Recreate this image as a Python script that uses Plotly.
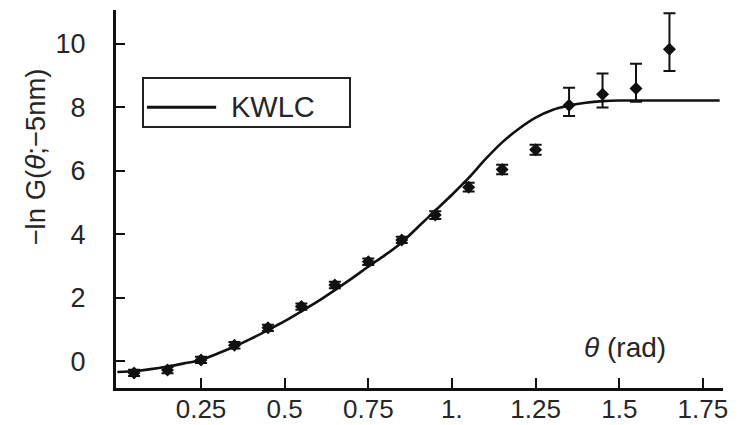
import plotly.graph_objects as go

# Measured data (theta in rad, -ln G)
theta_pts = [0.05, 0.15, 0.25, 0.35, 0.45, 0.55, 0.65, 0.75, 0.85,
             0.95, 1.05, 1.15, 1.25, 1.35, 1.45, 1.55, 1.65]
lnG_pts = [-0.36, -0.27, 0.05, 0.51, 1.06, 1.73, 2.41, 3.14, 3.83,
           4.61, 5.49, 6.05, 6.67, 8.07, 8.42, 8.60, 9.83]
err_plus = [0.1, 0.1, 0.1, 0.1, 0.1, 0.1, 0.1, 0.1, 0.1,
            0.12, 0.14, 0.15, 0.16, 0.55, 0.65, 0.78, 1.14]
err_minus = [0.1, 0.1, 0.1, 0.1, 0.1, 0.1, 0.1, 0.1, 0.1,
             0.12, 0.14, 0.15, 0.16, 0.34, 0.42, 0.42, 0.68]

# KWLC model curve
theta_fit = [0.0, 0.05, 0.10, 0.15, 0.20, 0.25, 0.30, 0.35, 0.40, 0.45,
             0.50, 0.55, 0.60, 0.65, 0.70, 0.75, 0.80, 0.85, 0.90, 0.95,
             1.00, 1.05, 1.10, 1.15, 1.20, 1.25, 1.30, 1.35, 1.40, 1.45,
             1.50, 1.60, 1.70, 1.80]
lnG_fit = [-0.33, -0.30, -0.24, -0.16, -0.06, 0.05, 0.25, 0.47, 0.72, 0.99,
           1.27, 1.58, 1.90, 2.25, 2.61, 2.99, 3.35, 3.75, 4.25, 4.75,
           5.25, 5.78, 6.37, 6.90, 7.33, 7.68, 7.92, 8.06, 8.15, 8.20,
           8.22, 8.22, 8.22, 8.22]

x_tickvals = [0.25, 0.5, 0.75, 1.0, 1.25, 1.5, 1.75]
x_ticktext = ["0.25", "0.5", "0.75", "1.", "1.25", "1.5", "1.75"]
y_tickvals = [0, 2, 4, 6, 8, 10]

TXT = "#262626"
FONT = "Liberation Sans, Arial, sans-serif"

fig = go.Figure()
fig.add_trace(go.Scatter(
    x=theta_fit, y=lnG_fit, mode="lines", name="KWLC",
    line=dict(color="#111111", width=2.6, shape="spline", smoothing=0.6),
    showlegend=False))
fig.add_trace(go.Scatter(
    x=theta_pts, y=lnG_pts, mode="markers", name="data",
    marker=dict(symbol="diamond", size=10, color="#111111"),
    error_y=dict(type="data", symmetric=False, array=err_plus,
                 arrayminus=err_minus, color="#111111", thickness=2, width=6),
    showlegend=False))

# legend box drawn manually
fig.add_shape(type="rect", xref="paper", yref="paper",
              x0=0.0445, x1=0.3855, y0=0.6905, y1=0.820,
              line=dict(color="#222222", width=2), fillcolor="white")
fig.add_shape(type="line", xref="paper", yref="paper",
              x0=0.051, x1=0.165, y0=0.743, y1=0.743,
              line=dict(color="#111111", width=3))
fig.add_annotation(xref="paper", yref="paper", x=0.186, y=0.743,
                   text="KWLC", showarrow=False, xanchor="left",
                   yanchor="middle", font=dict(size=29, color=TXT, family=FONT))

# axis titles
fig.add_annotation(xref="paper", yref="paper", x=-0.1334, y=0.610,
                   text="−ln G(<i>θ</i>;−5nm)", textangle=-90, showarrow=False,
                   xanchor="center", yanchor="middle",
                   font=dict(size=27.5, color=TXT, family=FONT))
fig.add_annotation(xref="paper", yref="paper", x=0.8386, y=0.108,
                   text="<i>θ</i> (rad)", showarrow=False,
                   xanchor="center", yanchor="middle",
                   font=dict(size=28, color=TXT, family=FONT))

fig.update_layout(
    width=740, height=425,
    margin=dict(l=116, r=17, t=10, b=37),
    paper_bgcolor="white", plot_bgcolor="white",
    font=dict(family=FONT, size=27, color=TXT),
    showlegend=False,
)
fig.update_xaxes(range=[-0.004, 1.81], tickvals=x_tickvals, ticktext=x_ticktext,
                 showline=True, linecolor="#111111", linewidth=3,
                 ticks="inside", ticklen=10, tickwidth=2, tickcolor="#111111",
                 showgrid=False, zeroline=False, ticklabelstandoff=-4,
                 automargin=False,
                 tickfont=dict(size=26, color=TXT, family=FONT))
fig.update_yaxes(range=[-0.835, 11.07], tickvals=y_tickvals,
                 showline=True, linecolor="#111111", linewidth=3,
                 ticks="inside", ticklen=9, tickwidth=2, tickcolor="#111111",
                 showgrid=False, zeroline=False, ticklabelstandoff=22,
                 automargin=False,
                 tickfont=dict(size=27, color=TXT, family=FONT))

fig.write_html("out.html")
